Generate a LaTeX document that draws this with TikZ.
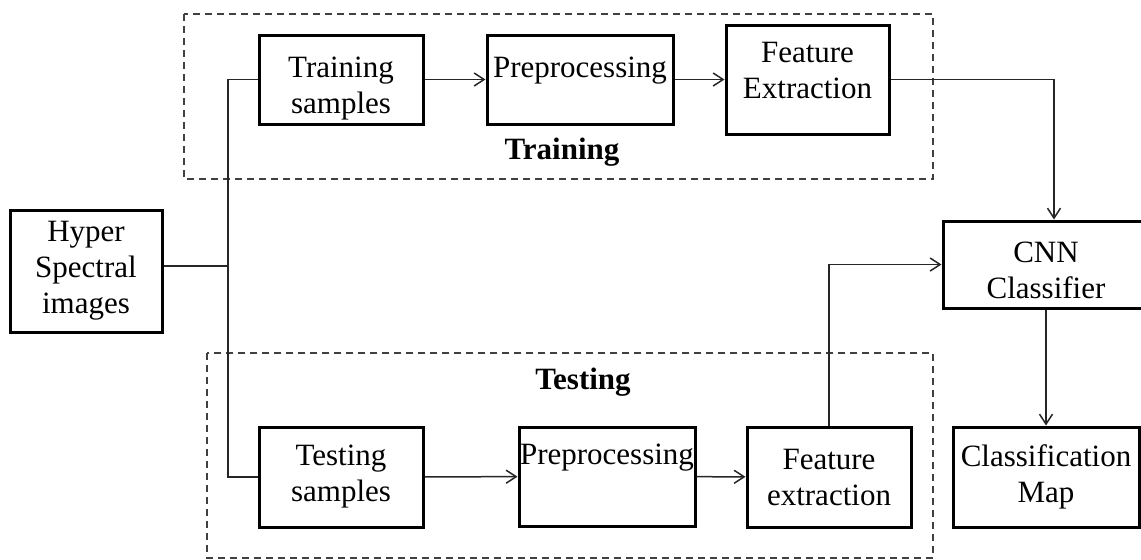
\documentclass[tikz,border=0pt]{standalone}
\usepackage{fontspec}
\setmainfont{Liberation Serif}
\usetikzlibrary{arrows.meta}

\begin{document}
\begin{tikzpicture}[x=0.5pt,y=-0.5pt,
  block/.style={draw,line width=1.5pt,align=center,inner sep=0pt,font=\fontsize{15.5}{18}\selectfont},
  link/.style={line width=0.75pt,draw=black!85},
  arr/.style={link,-{Straight Barb[length=5pt,width=6.5pt]}},
  frame/.style={draw=black!75,line width=0.75pt,dash pattern=on 3.5pt off 2.5pt},
  caption/.style={font=\fontsize{15.5}{18}\selectfont\bfseries}]
\useasboundingbox (0,0) rectangle (1141,559);
\clip (0,0) rectangle (1141,559);

% dashed frames round the two branches
\draw[frame] (184,14) rectangle (933,179);
\draw[frame] (207,353) rectangle (933,558);
\node[caption] (traincap) at (562,152) {Training};
\node[caption] (testcap) at (583,382) {Testing};

\node[block,minimum width=76pt,minimum height=61pt] (hyper) at (86,271) {Hyper\\Spectral\\images};

% training branch
\node[block,minimum width=82pt,minimum height=44.5pt] (trainset) at (341,79.5) {\mbox{}\\[1.3pt]Training\\samples};
\node[block,minimum width=93pt,minimum height=44.5pt] (trainprep) at (580,79.5) {Preprocessing\\[-6pt]\mbox{}};
\node[block,minimum width=81.5pt,minimum height=54.5pt] (trainfeat) at (807.5,79.5) {Feature\\Extraction\\[-9pt]\mbox{}};

% testing branch
\node[block,minimum width=82pt,minimum height=50pt] (testset) at (341,477) {Testing\\samples};
\node[block,minimum width=88pt,minimum height=49.5pt] (testprep) at (607,476.5) {Preprocessing\\[4pt]\mbox{}};
\node[block,minimum width=82pt,minimum height=50pt] (testfeat) at (829,477) {Feature\\extraction};

\node[block,minimum width=103pt,minimum height=43.5pt] (cnn) at (1046,264.5) {\mbox{}\\[-1.7pt]CNN\\Classifier};
\node[block,minimum width=93pt,minimum height=50pt] (map) at (1046,477) {Classification\\Map};

\coordinate (split) at (228,266);
\draw[link] (split -| hyper.east) -- (split);
\draw[link] (trainset.west) -| (split) |- (testset.west);

\draw[arr] (trainset) -- (trainprep);
\draw[arr] (trainprep) -- (trainfeat);
\draw[arr] (trainfeat.east) -| ([xshift=4pt]cnn.north);

\draw[arr] (testset) -- (testprep);
\draw[arr] (testprep) -- (testfeat);
\draw[arr] (testfeat.north) |- (cnn.west);

\draw[arr] (cnn) -- (map);
\end{tikzpicture}
\end{document}
